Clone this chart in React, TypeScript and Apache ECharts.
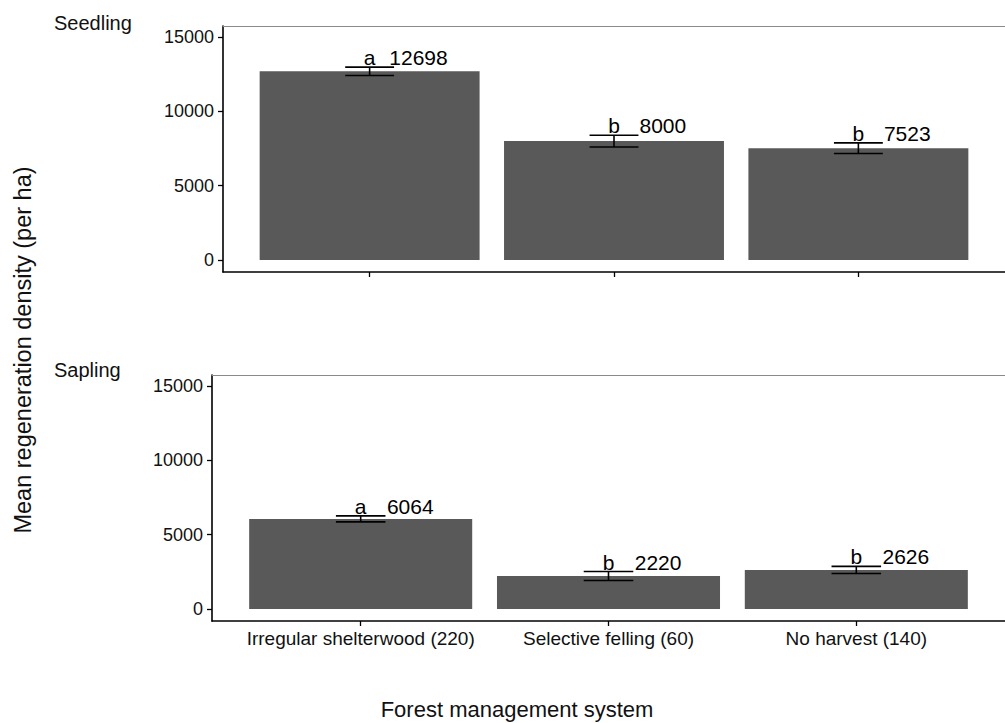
import React, { useEffect, useRef } from "react";
import * as echarts from "echarts";

const categories = ["Irregular shelterwood (220)", "Selective felling (60)", "No harvest (140)"];
const positions = [1, 2, 3];
const seedlingMean = [12698, 8000, 7523];
const seedlingSE = [280, 400, 360];
const seedlingLetters = ["a", "b", "b"];
const saplingMean = [6064, 2220, 2626];
const saplingSE = [200, 300, 240];
const saplingLetters = ["a", "b", "b"];
const yTicks = [0, 5000, 10000, 15000];
const panelNames = ["Seedling", "Sapling"];
const yTitle = "Mean regeneration density (per ha)";
const xTitle = "Forest management system";

const FONT = "'Liberation Sans', Arial, Helvetica, sans-serif";
const BAR_COLOR = "#595959";
const TEXT = "#111";

function errorSeries(idx: number, means: number[], ses: number[]) {
  return {
    type: "custom",
    xAxisIndex: idx * 2,
    yAxisIndex: idx,
    z: 5,
    data: positions.map((p, i) => [p, means[i], ses[i]]),
    renderItem: (params: any, api: any) => {
      const x = api.value(0);
      const m = api.value(1);
      const s = api.value(2);
      const top = api.coord([x, m + s]);
      const bot = api.coord([x, m - s]);
      const l = api.coord([x - 0.1, m])[0];
      const r = api.coord([x + 0.1, m])[0];
      const st = { stroke: "#000", lineWidth: 1.6 };
      return {
        type: "group",
        children: [
          { type: "line", shape: { x1: top[0], y1: top[1], x2: bot[0], y2: bot[1] }, style: st },
          { type: "line", shape: { x1: l, y1: top[1], x2: r, y2: top[1] }, style: st },
          { type: "line", shape: { x1: l, y1: bot[1], x2: r, y2: bot[1] }, style: st },
        ],
      };
    },
  };
}

function barSeries(idx: number, means: number[]) {
  return {
    type: "custom",
    xAxisIndex: idx * 2,
    yAxisIndex: idx,
    z: 2,
    data: positions.map((p, i) => [p, means[i]]),
    renderItem: (params: any, api: any) => {
      const x = api.value(0);
      const v = api.value(1);
      const tl = api.coord([x - 0.45, v]);
      const br = api.coord([x + 0.45, 0]);
      return {
        type: "rect",
        shape: { x: tl[0], y: tl[1], width: br[0] - tl[0], height: br[1] - tl[1] },
        style: { fill: BAR_COLOR },
      };
    },
  };
}

function labelSeries(idx: number, means: number[], ses: number[], letters: string[]) {
  return {
    type: "custom",
    xAxisIndex: idx * 2,
    yAxisIndex: idx,
    z: 6,
    data: positions.map((p, i) => [p, means[i], ses[i], i]),
    renderItem: (params: any, api: any) => {
      const x = api.value(0);
      const m = api.value(1);
      const s = api.value(2);
      const i = api.value(3);
      const a = api.coord([x, m + s]);
      const b = api.coord([x + 0.2, m + s]);
      const ts = { fontSize: 21, fontFamily: FONT, fill: "#000", verticalAlign: "bottom" };
      return {
        type: "group",
        children: [
          { type: "text", x: a[0], y: a[1] + 1, style: { ...ts, text: letters[i], align: "center" } },
          { type: "text", x: b[0], y: b[1] + 1, style: { ...ts, text: String(means[i]), align: "center" } },
        ],
      };
    },
  };
}

export default function App() {
  const ref = useRef<HTMLDivElement>(null);
  useEffect(() => {
    if (!ref.current) return;
    const chart = echarts.init(ref.current, null, { renderer: "svg" });
    const grids = [
      { left: 223, top: 26, width: 790, height: 246 },
      { left: 212, top: 375, width: 800, height: 246 },
    ];
    const xAxes: any[] = [];
    const yAxes: any[] = [];
    [0, 1].forEach((g) => {
      xAxes.push({
        type: "value",
        gridIndex: g,
        min: 0.4,
        max: 3.6,
        position: "bottom",
        axisLine: { show: true, onZero: false, lineStyle: { color: "#000", width: 1.6 } },
        axisTick: { show: true, length: 5, customValues: positions, lineStyle: { color: "#000", width: 1.3 } },
        axisLabel: {
          show: g === 1,
          customValues: positions,
          formatter: (v: number) => categories[Math.round(v) - 1] ?? "",
          fontSize: 19,
          fontFamily: FONT,
          color: TEXT,
          margin: 8,
        },
        splitLine: { show: false },
      });
      xAxes.push({
        type: "value",
        gridIndex: g,
        min: 0.4,
        max: 3.6,
        position: "top",
        axisLine: { show: true, onZero: false, lineStyle: { color: "#8a8a8a", width: 1 } },
        axisTick: { show: false },
        axisLabel: { show: false },
        splitLine: { show: false },
      });
      yAxes.push({
        type: "value",
        gridIndex: g,
        min: -807,
        max: 15747,
        axisLine: { show: true, onZero: false, lineStyle: { color: "#000", width: 1.6 } },
        axisTick: { show: true, length: 5, customValues: yTicks, lineStyle: { color: "#000", width: 1.3 } },
        axisLabel: {
          show: true,
          customValues: yTicks,
          formatter: (v: number) => String(v),
          fontSize: 18,
          fontFamily: FONT,
          color: TEXT,
          margin: 9,
        },
        splitLine: { show: false },
      });
    });
    const option: any = {
      animation: false,
      backgroundColor: "#fff",
      title: [
        { text: panelNames[0], left: 49, top: 8, textStyle: { fontSize: 20, fontWeight: "normal", fontFamily: FONT, color: TEXT } },
        { text: panelNames[1], left: 49, top: 355, textStyle: { fontSize: 20, fontWeight: "normal", fontFamily: FONT, color: TEXT } },
      ],
      grid: grids,
      xAxis: xAxes,
      yAxis: yAxes,
      series: [
        barSeries(0, seedlingMean),
        barSeries(1, saplingMean),
        errorSeries(0, seedlingMean, seedlingSE),
        errorSeries(1, saplingMean, saplingSE),
        labelSeries(0, seedlingMean, seedlingSE, seedlingLetters),
        labelSeries(1, saplingMean, saplingSE, saplingLetters),
      ],
      graphic: [
        {
          type: "text",
          x: 23,
          y: 350,
          rotation: Math.PI / 2,
          style: { text: yTitle, fontSize: 23.5, fontFamily: FONT, fill: TEXT, align: "center", verticalAlign: "middle" },
        },
        {
          type: "text",
          x: 517,
          y: 698,
          style: { text: xTitle, fontSize: 22, fontFamily: FONT, fill: TEXT, align: "center", verticalAlign: "top" },
        },
      ],
    };
    chart.setOption(option);
    return () => chart.dispose();
  }, []);
  return (
    <div
      ref={ref}
      style={{ position: "fixed", left: 0, top: 0, width: 1005, height: 723, background: "#fff" }}
    />
  );
}
